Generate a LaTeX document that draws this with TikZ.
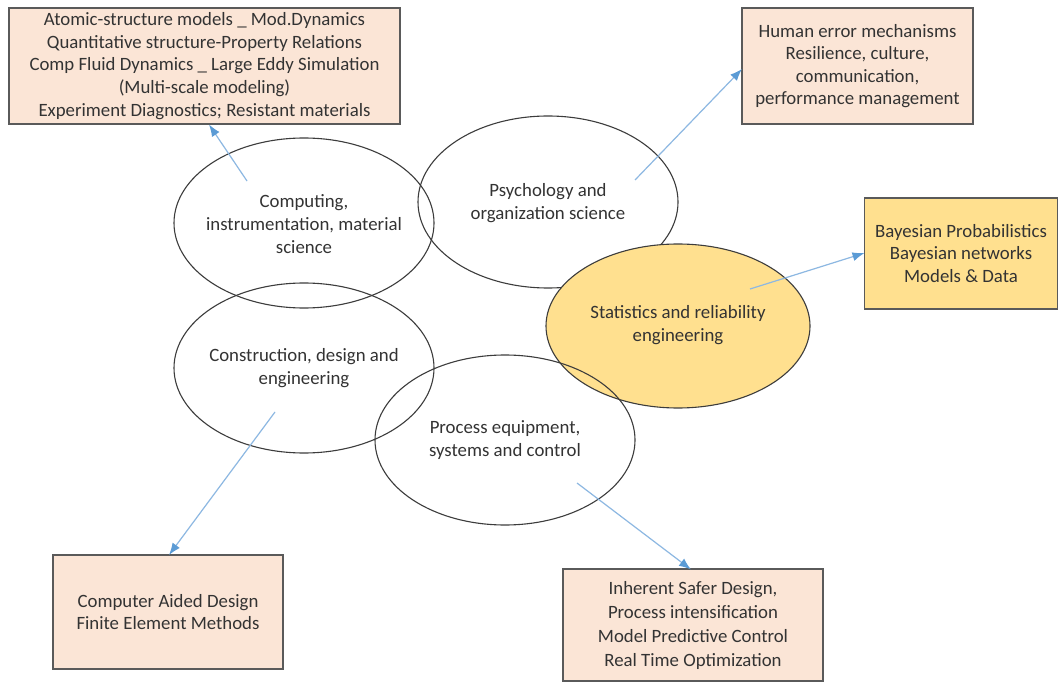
\documentclass[tikz,border=0pt]{standalone}
\usepackage{fontspec}
\setmainfont{Carlito}
\usetikzlibrary{arrows.meta}
\definecolor{peach}{HTML}{FBE5D6}
\definecolor{gold}{HTML}{FFE08F}
\definecolor{txt}{HTML}{333333}
\definecolor{edge}{HTML}{5A5A5A}
\definecolor{ell}{HTML}{3C3C3C}
\definecolor{arrowblue}{HTML}{8DB8E2}
\definecolor{tipblue}{HTML}{5B9BD5}
\begin{document}
\begin{tikzpicture}[x=1pt,y=-1pt,
  every node/.style={font=\fontsize{18.8}{22.6}\selectfont, text=txt},
  infobox/.style={draw=edge, line width=1.4pt, fill=peach, align=center, inner sep=0pt},
  goldbox/.style={infobox, fill=gold},
  arr/.style={draw=arrowblue, line width=1.2pt, -{Latex[length=12pt,width=9pt,color=tipblue]}}
]
\useasboundingbox (0,0) rectangle (1059,684);
\fill[white] (0,0) rectangle (1059,684);

% boxes
\node[infobox, minimum width=391pt, minimum height=116pt] (tl) at (204.5,66)
  {Atomic-structure models \_ Mod.Dynamics\\Quantitative structure-Property Relations\\Comp Fluid Dynamics \_ Large Eddy Simulation\\(Multi-scale modeling)\\Experiment Diagnostics; Resistant materials};
\node[infobox, minimum width=231pt, minimum height=116pt] (tr) at (857.5,66)
  {Human error mechanisms\\Resilience, culture,\\communication,\\performance management};
\node[goldbox, minimum width=193pt, minimum height=111pt] (bay) at (961,253.5)
  {Bayesian Probabilistics\\Bayesian networks\\Models \& Data};
\node[infobox, minimum width=230pt, minimum height=114pt] (bl) at (168,612)
  {Computer Aided Design\\Finite Element Methods};
\node[infobox, minimum width=260pt, minimum height=112pt, font=\fontsize{18.8}{24}\selectfont] (br) at (693,625)
  {Inherent Safer Design,\\Process intensification\\Model Predictive Control\\Real Time Optimization};

% ellipses
\draw[ell, line width=1.1pt] (304,223) ellipse [x radius=130, y radius=85];
\node[align=center] (comp) at (304,224) {Computing,\\instrumentation, material\\science};
\draw[ell, line width=1.1pt] (548,202) ellipse [x radius=130, y radius=86];
\node[align=center] (psy) at (548,203) {Psychology and\\organization science};
\draw[ell, line width=1.1pt] (304,368) ellipse [x radius=130, y radius=85];
\node[align=center] (cons) at (304,368) {Construction, design and\\engineering};
\draw[ell, line width=1.1pt, fill=gold] (678,326) ellipse [x radius=132, y radius=82];
\node[align=center] (stat) at (678,325) {Statistics and reliability\\engineering};
\draw[ell, line width=1.1pt] (505,440) ellipse [x radius=130, y radius=85];
\node[align=center] (proc) at (505,440) {Process equipment,\\systems and control};

% arrow ends
\coordinate (s1) at (247,181);
\coordinate (e1) at (209,124.5);
\coordinate (s2) at (635,180);
\coordinate (e2) at (742,69);
\coordinate (s3) at (750,289);
\coordinate (e3) at (864.5,253);
\coordinate (s4) at (275,412);
\coordinate (e4) at (169,555);
\coordinate (s5) at (577,483);
\coordinate (e5) at (691,569.5);

\draw[arr] (s1) -- (e1);
\draw[arr] (s2) -- (e2);
\draw[arr] (s3) -- (e3);
\draw[arr] (s4) -- (e4);
\draw[arr] (s5) -- (e5);
\end{tikzpicture}
\end{document}
